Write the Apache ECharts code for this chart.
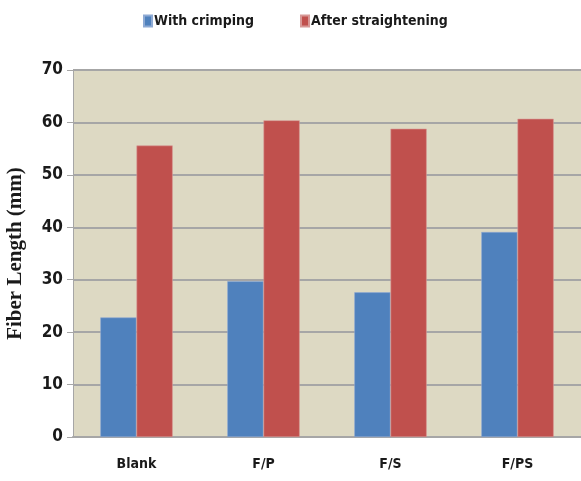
<!DOCTYPE html>
<html>
<head>
<meta charset="utf-8">
<script src="https://cdn.jsdelivr.net/npm/echarts@6/dist/echarts.min.js"></script>
<style>
  html, body { margin: 0; padding: 0; background: #ffffff; }
  #chart { width: 581px; height: 481px; }
</style>
</head>
<body>
<div id="chart"></div>
<script>
// Fiber length of blank and treated samples
const categories = ['Blank', 'F/P', 'F/S', 'F/PS'];
const withCrimping = [22.8, 29.7, 27.6, 39.1];
const afterStraightening = [55.6, 60.4, 58.8, 60.7];
const seriesNames = ['With crimping', 'After straightening'];
const yTicks = { min: 0, max: 70, interval: 10 };

const labelFont = '"Liberation Sans Narrow", "DejaVu Sans Condensed", "Open Sans", sans-serif';

const chart = echarts.init(document.getElementById('chart'), null, { renderer: 'canvas' });
chart.setOption({
  animation: false,
  backgroundColor: '#ffffff',
  legend: {
    top: 9,
    left: 138,
    itemGap: 46,
    itemWidth: 8,
    itemHeight: 11,
    icon: 'rect',
    textStyle: { fontFamily: labelFont, fontWeight: 'bold', fontSize: 14, color: '#1a1a1a', padding: [0, 0, 0, -3] },
    data: seriesNames
  },
  grid: {
    left: 73, right: 0, top: 70, bottom: 44,
    outerBoundsMode: 'none',
    backgroundColor: '#ddd9c3', show: true, borderWidth: 0
  },
  xAxis: {
    type: 'category',
    data: categories,
    axisLine: { show: true, lineStyle: { color: '#a6a6a6', width: 2 } },
    axisTick: { show: false },
    axisLabel: { margin: 20, fontFamily: labelFont, fontWeight: 'bold', fontSize: 14, color: '#1a1a1a' }
  },
  yAxis: {
    type: 'value',
    min: yTicks.min,
    max: yTicks.max,
    interval: yTicks.interval,
    name: 'Fiber Length (mm)',
    nameLocation: 'middle',
    nameGap: 47,
    nameTextStyle: { fontFamily: '"Liberation Serif", "DejaVu Serif", serif', fontWeight: 'bold', fontSize: 21, color: '#1a1a1a' },
    axisLine: { show: true, lineStyle: { color: '#a6a6a6', width: 1 } },
    axisTick: { show: true, length: 6, lineStyle: { color: '#a6a6a6' } },
    axisLabel: { margin: 10, fontFamily: labelFont, fontWeight: 'bold', fontSize: 17, color: '#1a1a1a' },
    splitLine: { show: true, lineStyle: { color: '#a6a6a6', width: 2 } }
  },
  series: [
    {
      name: seriesNames[0],
      type: 'bar',
      data: withCrimping,
      barGap: '0%',
      barCategoryGap: '43%',
      itemStyle: { color: '#4f81bd', borderColor: '#8eaad4', borderWidth: 0.6 }
    },
    {
      name: seriesNames[1],
      type: 'bar',
      data: afterStraightening,
      barGap: '0%',
      barCategoryGap: '43%',
      itemStyle: { color: '#c0504d', borderColor: '#d79896', borderWidth: 0.6 }
    }
  ]
});
</script>
</body>
</html>
